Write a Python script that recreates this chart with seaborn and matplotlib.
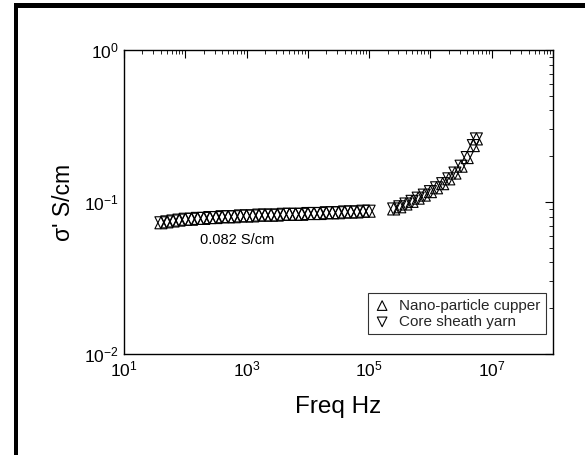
import numpy as np
import pandas as pd
import matplotlib
matplotlib.use("Agg")
import matplotlib.pyplot as plt
import matplotlib.ticker as mticker
from matplotlib.patches import Rectangle
import seaborn as sns

# ---- data ----
freq_low = [40, 50, 63, 79, 100, 126, 158, 200, 251, 316, 398, 501, 631, 794,
            1000, 1259, 1585, 1995, 2512, 3162, 3981, 5012, 6310, 7943,
            10000, 12589, 15849, 19953, 25119, 31623, 39811, 50119, 63096, 79433, 100000]
sig_low = [0.073, 0.074, 0.075, 0.076, 0.077, 0.077, 0.078, 0.078, 0.079, 0.079,
           0.080, 0.080, 0.080, 0.081, 0.081, 0.081, 0.082, 0.082, 0.082, 0.082,
           0.083, 0.083, 0.083, 0.083, 0.084, 0.084, 0.084, 0.085, 0.085, 0.085,
           0.086, 0.086, 0.086, 0.087, 0.087]
freq_high = [251189, 316228, 398107, 501187, 630957, 794328, 1000000, 1258925,
             1584893, 1995262, 2511886, 3162278, 3981072, 5011872, 5623413]
sig_high = [0.090, 0.093, 0.097, 0.101, 0.106, 0.111, 0.117, 0.124, 0.132,
            0.142, 0.155, 0.172, 0.196, 0.235, 0.260]

series_up = "Nano-particle cupper"
series_down = "Core sheath yarn"

freq = freq_low + freq_high
sig = sig_low + sig_high
df_up = pd.DataFrame({"f": freq, "s": sig})
df_down = pd.DataFrame({"f": freq, "s": sig})

sns.set_theme(style="white")
plt.rcParams['font.family'] = ['Liberation Sans', 'DejaVu Sans']
plt.rcParams['mathtext.fontset'] = 'custom'
plt.rcParams['mathtext.rm'] = 'Liberation Sans'
plt.rcParams['mathtext.it'] = 'Liberation Sans:italic'

fig = plt.figure(figsize=(5.85, 4.55), dpi=100)
W, H = 585, 455
ax = fig.add_axes([124 / W, 1 - 354 / H, (553 - 124) / W, (354 - 50) / H])

sns.scatterplot(data=df_up, x="f", y="s", ax=ax, marker="^", s=75,
                facecolor="none", edgecolor="black", linewidth=0.8,
                label=series_up, zorder=3)
sns.scatterplot(data=df_down, x="f", y="s", ax=ax, marker="v", s=75,
                facecolor="none", edgecolor="black", linewidth=0.8,
                label=series_down, zorder=3)

ax.set_xscale("log")
ax.set_yscale("log")
ax.set_xlim(10, 1e8)
ax.set_ylim(1e-2, 1)

ax.xaxis.set_major_locator(mticker.LogLocator(base=10, numticks=20))
ax.xaxis.set_minor_locator(mticker.LogLocator(base=10, subs=np.arange(2, 10), numticks=100))
def xfmt(v, pos):
    e = int(round(np.log10(v)))
    return r"$10^{%d}$" % e if e % 2 == 1 else ""
ax.xaxis.set_major_formatter(mticker.FuncFormatter(xfmt))
ax.xaxis.set_minor_formatter(mticker.NullFormatter())
ax.yaxis.set_major_locator(mticker.LogLocator(base=10, numticks=20))
ax.yaxis.set_minor_locator(mticker.LogLocator(base=10, subs=np.arange(2, 10), numticks=100))
ax.yaxis.set_major_formatter(mticker.FuncFormatter(lambda v, p: r"$10^{%d}$" % int(round(np.log10(v)))))
ax.yaxis.set_minor_formatter(mticker.NullFormatter())

ax.tick_params(which="both", direction="in", top=True, right=True, color="black")
ax.tick_params(which="major", length=6, width=0.8, labelsize=12.5, pad=4)
ax.tick_params(which="minor", length=3, width=0.6)
for sp in ax.spines.values():
    sp.set_color("black")
    sp.set_linewidth(1.0)
ax.grid(False)

ax.set_xlabel("Freq Hz", fontsize=17.5, color="black", labelpad=12)
ax.set_ylabel("σ' S/cm", fontsize=16.5, color="black", labelpad=6)
ax.tick_params(labelcolor="black")

ax.text(175, 0.056, "0.082 S/cm", fontsize=10.5, color="black", va="center", ha="left")

leg = ax.legend(loc="lower right", bbox_to_anchor=(0.99, 0.055), frameon=True,
                fancybox=False, fontsize=11, handletextpad=0.5, borderpad=0.35,
                labelspacing=0.15, handlelength=1.2, borderaxespad=0.2, markerscale=0.8)
leg.get_frame().set_edgecolor("black")
leg.get_frame().set_linewidth(0.8)

# black frame bars on the left and top edges of the image
fig.add_artist(Rectangle((14 / W, 0), 4 / W, 1 - 3 / H, transform=fig.transFigure,
                         color="black", lw=0))
fig.add_artist(Rectangle((14 / W, 1 - 8 / H), 1 - 14 / W, 5 / H, transform=fig.transFigure,
                         color="black", lw=0))

fig.savefig("out.png", dpi=100)
